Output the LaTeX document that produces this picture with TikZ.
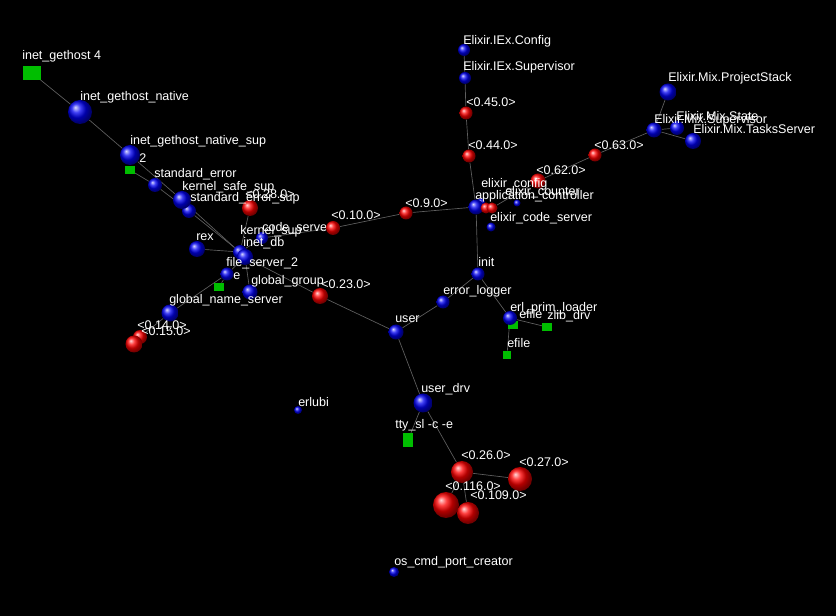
\documentclass[tikz,border=0pt]{standalone}
\usepackage{fontspec}
\setmainfont{Liberation Sans}
\usetikzlibrary{positioning}
\pgfdeclarelayer{back}
\pgfsetlayers{back,main}
\definecolor{portgreen}{RGB}{0,190,0}
\definecolor{linkgray}{RGB}{95,95,95}

\begin{document}
\begin{tikzpicture}[
x=0.75pt, y=-0.75pt,
proc/.style={
circle,
ball color=blue!95!black,
minimum size=#1*0.75pt,
inner sep=0pt
},
pid/.style={
circle,
ball color=red,
minimum size=#1*0.75pt,
inner sep=0pt
},
port/.style={
fill=portgreen,
inner sep=0pt
},
lbl/.style={
text=white,
anchor=west,
inner sep=0pt,
font=\fontsize{9.4}{10}\selectfont
},
link/.style={
draw=linkgray,
line width=0.5pt
}
]

\useasboundingbox (0,0) rectangle (836,616);

% ports
\node[port, minimum width=14pt, minimum height=10pt] (p_gethost) at (32,73) {};
\node[port, minimum width=7pt, minimum height=6pt] (p_two) at (130,170) {};
\node[port, minimum width=7pt, minimum height=6pt] (p_e) at (219,287) {};
\node[port, minimum width=7pt, minimum height=6pt] (p_efile_a) at (513,325) {};
\node[port, minimum width=7pt, minimum height=6pt] (p_zlib) at (547,327) {};
\node[port, minimum width=6pt, minimum height=6pt] (p_efile_b) at (507,355) {};
\node[port, minimum width=7.5pt, minimum height=10.5pt] (p_tty) at (408,440) {};

% kernel side
\node[proc=24] (gethost_native) at (80,112) {};
\node[proc=20] (gethost_sup) at (130,155) {};
\node[proc=14] (std_error) at (155,185) {};
\node[proc=14] (std_error_sup) at (189,211) {};
\node[proc=18] (kernel_safe) at (182,200) {};
\node[pid=16] (r28) at (250,208) {};
\node[proc=16] (rex) at (197,249) {};
\node[proc=12] (kernel_sup) at (262,238) {};
\node[proc=14] (inet_db) at (240,252) {};
\node[proc=16] (file_srv) at (245,257) {};
\node[proc=13] (file_e) at (227,274) {};
\node[proc=15] (global_group) at (250,292) {};
\node[proc=17] (global_name) at (170,313) {};
\node[pid=14] (r14) at (140,337) {};
\node[pid=17] (r15) at (134,344) {};

\node[lbl] (l_code_server) at (262,228) {code\_server};
\node[pid=14] (r10) at (333,228) {};
\node[pid=13] (r9) at (406,213) {};
\node[pid=16] (r23) at (320,296) {};

% elixir side
\node[proc=12] (iex_config) at (464,50) {};
\node[proc=12] (iex_sup) at (465,78) {};
\node[pid=13] (r45) at (466,113) {};
\node[pid=13] (r44) at (469,156) {};
\node[pid=15] (r62) at (538,181) {};
\node[pid=13] (r63) at (595,155) {};
\node[proc=17] (mix_stack) at (668,92) {};
\node[proc=15] (mix_sup) at (654,130) {};
\node[proc=14] (mix_state) at (677,128) {};
\node[proc=16] (mix_tasks) at (693,141) {};
\node[proc=8] (elixir_config) at (481,202) {};
\node[proc=7] (elixir_counter) at (517,203) {};
\node[proc=15] (app_ctrl) at (476,207) {};
\node[pid=11] (ra) at (486,208) {};
\node[pid=11] (rb) at (492,208) {};
\node[proc=9] (elixir_code) at (491,227) {};

% init side
\node[proc=13] (init) at (478,274) {};
\node[proc=13] (error_logger) at (443,302) {};
\node[proc=14] (prim_loader) at (510,318) {};
\node[proc=15] (user) at (396,332) {};
\node[proc=19] (user_drv) at (423,403) {};
\node[pid=22] (r26) at (462,472) {};
\node[pid=24] (r27) at (520,479) {};
\node[pid=26] (r116) at (446,505) {};
\node[pid=22] (r109) at (468,513) {};
\node[proc=8] (erlubi) at (298,410) {};
\node[proc=10] (os_cmd) at (394,572) {};

% labels
\node[lbl] (l_gethost) at (22,56) {inet\_gethost 4};
\node[lbl] (l_gethost_native) at (80,97) {inet\_gethost\_native};
\node[lbl] (l_gethost_sup) at (130,141) {inet\_gethost\_native\_sup};
\node[lbl] (l_two) at (139,158) {2};
\node[lbl] (l_std_error) at (154,174) {standard\_error};
\node[lbl] (l_kernel_safe) at (182,187) {kernel\_safe\_sup};
\node[lbl] (l_r28) at (245,194) {<0.28.0>};
\node[lbl] (l_std_error_sup) at (190,198) {standard\_error\_sup};
\node[lbl] (l_rex) at (196,237) {rex};
\node[lbl] (l_kernel_sup) at (240,231) {kernel\_sup};
\node[lbl] (l_inet_db) at (243,243) {inet\_db};
\node[lbl] (l_file_srv) at (226,263) {file\_server\_2};
\node[lbl] (l_e) at (233,276) {e};
\node[lbl] (l_global_group) at (251,281) {global\_group};
\node[lbl] (l_r23) at (321,284) {<0.23.0>};
\node[lbl] (l_global_name) at (169,300) {global\_name\_server};
\node[lbl] (l_r14) at (137,325) {<0.14.0>};
\node[lbl] (l_r15) at (141,331) {<0.15.0>};
\node[lbl] (l_r10) at (331,215) {<0.10.0>};
\node[lbl] (l_r9) at (405,203) {<0.9.0>};
\node[lbl] (l_iex_config) at (463,41) {Elixir.IEx.Config};
\node[lbl] (l_iex_sup) at (463,67) {Elixir.IEx.Supervisor};
\node[lbl] (l_r45) at (466,102) {<0.45.0>};
\node[lbl] (l_r44) at (468,145) {<0.44.0>};
\node[lbl] (l_r62) at (536,170) {<0.62.0>};
\node[lbl] (l_r63) at (594,145) {<0.63.0>};
\node[lbl] (l_mix_stack) at (668,78) {Elixir.Mix.ProjectStack};
\node[lbl] (l_mix_state) at (676,116) {Elixir.Mix.State};
\node[lbl] (l_mix_sup) at (654,120) {Elixir.Mix.Supervisor};
\node[lbl] (l_mix_tasks) at (693,129) {Elixir.Mix.TasksServer};
\node[lbl] (l_elixir_config) at (481,184) {elixir\_config};
\node[lbl] (l_elixir_counter) at (505,192) {elixir\_counter};
\node[lbl] (l_app_ctrl) at (475,196) {application\_controller};
\node[lbl] (l_elixir_code) at (490,218) {elixir\_code\_server};
\node[lbl] (l_init) at (478,262) {init};
\node[lbl] (l_error_logger) at (443,291) {error\_logger};
\node[lbl] (l_prim_loader) at (510,308) {erl\_prim\_loader};
\node[lbl] (l_efile_a) at (519,314) {efile};
\node[lbl] (l_zlib) at (547,316) {zlib\_drv};
\node[lbl] (l_efile_b) at (507,343) {efile};
\node[lbl] (l_user) at (395,319) {user};
\node[lbl] (l_user_drv) at (421,389) {user\_drv};
\node[lbl] (l_tty) at (395,425) {tty\_sl -c -e};
\node[lbl] (l_r26) at (461,455) {<0.26.0>};
\node[lbl] (l_r27) at (519,462) {<0.27.0>};
\node[lbl] (l_r116) at (445,486) {<0.116.0>};
\node[lbl] (l_r109) at (470,495) {<0.109.0>};
\node[lbl] (l_erlubi) at (298,402) {erlubi};
\node[lbl] (l_os_cmd) at (394,562) {os\_cmd\_port\_creator};

\begin{pgfonlayer}{back}
\fill[black] (0,0) rectangle (836,616);
\draw[link] (p_gethost) -- (gethost_native) -- (gethost_sup);
\draw[link] (gethost_sup) -- (kernel_safe) -- (file_srv);
\draw[link] (p_two) -- (std_error) -- (std_error_sup) -- (inet_db);
\draw[link] (rex) -- (inet_db);
\draw[link] (r28) -- (inet_db);
\draw[link] (kernel_sup) -- (inet_db);
\draw[link] (file_srv) -- (global_group);
\draw[link] (file_srv) -- (file_e);
\draw[link] (file_e) -- (p_e);
\draw[link] (file_e) -- (global_name);
\draw[link] (global_name) -- (r14) -- (r15);
\draw[link] (kernel_sup) -- (r10) -- (r9) -- (app_ctrl);
\draw[link] (file_srv) -- (r23) -- (user);
\draw[link] (app_ctrl) -- (r44) -- (r45) -- (iex_sup) -- (iex_config);
\draw[link] (rb) -- (r62) -- (r63) -- (mix_sup);
\draw[link] (mix_sup) -- (mix_stack);
\draw[link] (mix_sup) -- (mix_state);
\draw[link] (mix_sup) -- (mix_tasks);
\draw[link] (app_ctrl) -- (init);
\draw[link] (init) -- (error_logger) -- (user);
\draw[link] (init) -- (prim_loader);
\draw[link] (prim_loader) -- (p_efile_a);
\draw[link] (prim_loader) -- (p_zlib);
\draw[link] (prim_loader) -- (p_efile_b);
\draw[link] (user) -- (user_drv) -- (r26);
\draw[link] (user_drv) -- (p_tty);
\draw[link] (r26) -- (r27);
\draw[link] (r26) -- (r116);
\draw[link] (r26) -- (r109);
\end{pgfonlayer}

\end{tikzpicture}
\end{document}
